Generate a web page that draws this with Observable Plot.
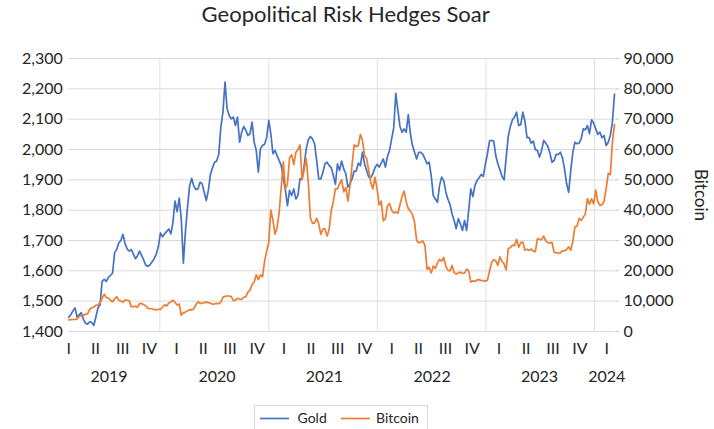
<!DOCTYPE html>
<html>
<head>
<meta charset="utf-8">
<script src="https://cdn.jsdelivr.net/npm/d3@7"></script>
<script src="https://cdn.jsdelivr.net/npm/@observablehq/plot@0.6"></script>
<style>
  body { margin: 0; background: #fff; }
  #chart { width: 714px; height: 429px; overflow: hidden; }
</style>
</head>
<body>
<div id="chart"></div>
<script>
// ---- data (weekly observations starting 2019-03-01) ----
const startDate = "2019-03-01";
const stepDays = 7;

const gold = [
  1447,1456,1468,1478,1447,1455,1462,1440,1428,1424,
  1432,1430,1420,1448,1478,1488,1565,1572,1565,1578,
  1585,1592,1660,1670,1692,1700,1720,1690,1672,1665,
  1670,1655,1640,1650,1665,1650,1635,1618,1615,1620,
  1630,1640,1655,1680,1725,1712,1722,1730,1738,1722,
  1760,1830,1795,1840,1770,1625,1730,1810,1880,1905,
  1880,1868,1870,1892,1887,1860,1832,1865,1918,1940,
  1958,1962,1984,2074,2123,2222,2134,2112,2101,2107,
  2079,2107,2024,2057,2076,2063,2046,2052,2090,2024,
  1997,1925,2002,2013,2017,2039,2096,2052,1986,1997,
  1980,1964,1947,1903,1865,1815,1865,1848,1870,1837,
  1848,1903,1903,1947,2002,2032,2043,2035,2019,1964,
  1903,1903,1925,1953,1958,1947,1940,1914,1885,1953,
  1931,1962,1936,1920,1876,1887,1903,1929,1929,1955,
  1947,1991,1953,1931,1909,1907,1920,1940,1951,1942,
  1955,1969,1942,1977,1997,2035,2071,2185,2130,2076,
  2057,2068,2057,2115,2052,2013,1991,1969,1991,1991,
  1984,1969,1953,1958,1914,1848,1837,1826,1881,1909,
  1898,1860,1837,1819,1788,1766,1739,1772,1755,1733,
  1766,1733,1800,1870,1845,1881,1898,1907,1918,1911,
  1951,1986,2028,2030,2028,1980,1953,1933,1911,1900,
  1975,2043,2076,2098,2107,2123,2079,2082,2123,2093,
  2039,2039,2021,2028,1999,1997,1975,1997,2030,2021,
  2010,1988,1958,1964,1984,1984,1991,1973,1936,1887,
  1859,1931,1991,2024,2019,2021,2035,2068,2065,2079,
  2052,2098,2087,2068,2050,2057,2039,2046,2013,2024,
  2046,2090,2183
];

const bitcoin = [
  3850,3900,3950,4000,4100,5000,5200,5300,5700,5800,
  7200,7900,8000,8600,8800,9300,11000,12300,11200,11000,
  10300,9800,10800,11500,10300,10100,9600,10400,10300,10200,
  8200,8200,8300,8000,9200,9200,8800,8500,7600,7500,
  7500,7200,7150,7300,7300,8000,8800,8400,9400,9800,
  10300,9700,8700,9100,5400,6200,6400,6800,7200,7100,
  7500,8800,9800,9300,9300,9500,9700,9500,9300,9000,
  9100,9250,9150,9700,11300,11600,11700,11700,11500,10200,
  10300,10900,10700,10600,11300,11500,13000,13600,15500,16300,
  18700,17100,18700,18000,23100,26500,29400,40000,36800,32100,
  34300,39300,47600,55900,47000,48800,57300,58300,55000,59000,
  60000,61500,50000,53500,57000,49000,37500,35600,35800,37300,
  35500,32000,33800,33800,31500,33600,39800,42800,47000,47000,
  48800,50000,46000,47500,43000,48000,54900,61500,61000,61300,
  65000,63000,58000,57000,53000,49000,47000,50800,47200,41700,
  43000,36500,37200,41500,42200,40000,39100,39400,39000,41800,
  44500,46300,42800,40500,39700,38600,36000,30000,29200,29500,
  29800,28400,20500,21200,19300,21600,20800,22600,23800,23200,
  24400,21500,20200,20000,21800,19400,18900,19400,19500,19200,
  19200,20600,20000,16300,16700,16500,17000,17100,16800,16800,
  16600,16900,19900,22700,23700,23300,21800,24600,23100,22300,
  20300,27400,27600,28500,28300,30400,27800,29300,29500,26800,
  27100,26700,27200,26500,26300,30600,30400,30300,31400,29900,
  29300,29200,29400,26100,26000,25800,25900,26600,26600,27000,
  27900,26800,29700,34500,34700,37300,36600,37700,38700,43800,
  42000,43700,42100,46600,42800,41600,41800,43000,47100,52100,
  51700,62400,68300
];

const goldTicks = [1400,1500,1600,1700,1800,1900,2000,2100,2200,2300];
const bitcoinTicks = [0,10000,20000,30000,40000,50000,60000,70000,80000,90000];

const quarterLabels = ["I","II","III","IV","I","II","III","IV","I","II","III","IV",
                       "I","II","III","IV","I","II","III","IV","I"];
const quarterDates = ["2019-03-01","2019-05-30","2019-08-29","2019-11-27",
                      "2020-02-26","2020-05-26","2020-08-24","2020-11-23",
                      "2021-02-21","2021-05-23","2021-08-21","2021-11-19",
                      "2022-02-18","2022-05-19","2022-08-18","2022-11-16",
                      "2023-02-14","2023-05-16","2023-08-14","2023-11-13",
                      "2024-02-11"];
const yearLabels = ["2019","2020","2021","2022","2023","2024"];
const yearLabelDates = ["2019-07-14","2020-07-11","2021-07-07","2022-07-04","2023-06-30","2024-02-11"];
const yearGridDates = ["2020-01-01","2021-01-01","2022-01-01","2023-01-01","2024-01-01"];

const title = "Geopolitical Risk Hedges Soar";
const rightTitle = "Bitcoin";
const seriesNames = ["Gold", "Bitcoin"];
const goldColor = "#4472C4";
const btcColor = "#ED7D31";
const textColor = "#262626";

// secondary axis: bitcoin 0..90,000 mapped onto gold 1,400..2,300
const btcToGold = b => 1400 + b / 100;
const goldToBtc = g => Math.round((g - 1400) * 100);

const t0 = new Date(startDate);
const rows = gold.map((g, i) => ({
  date: d3.utcDay.offset(t0, i * stepDays),
  gold: g,
  btc: bitcoin[i]
}));

const fmt = d3.format(",");

const plot = Plot.plot({
  width: 714,
  height: 429,
  marginLeft: 68.3,
  marginRight: 100,
  marginTop: 58,
  marginBottom: 98,
  style: { fontFamily: "Lato, sans-serif", background: "white", color: textColor, overflow: "visible" },
  x: { type: "utc", domain: [t0, rows[rows.length - 1].date], axis: null },
  y: { domain: [1400, 2300], axis: null },
  marks: [
    Plot.gridY(goldTicks, { stroke: "#d9d9d9", strokeOpacity: 1 }),
    Plot.ruleX(yearGridDates.map(d => new Date(d)), { stroke: "#e2e2e2", strokeWidth: 1 }),
    Plot.axisY(goldTicks, { anchor: "left", label: null, tickSize: 0, tickPadding: 6, tickFormat: fmt, fontSize: 16, fill: textColor }),
    Plot.axisY(bitcoinTicks.map(btcToGold), {
      anchor: "right", label: null, tickSize: 4, tickPadding: 5, stroke: "#c8c8c8",
      tickFormat: v => fmt(goldToBtc(v)), fontSize: 16, fill: textColor
    }),
    Plot.line(rows, { x: "date", y: "gold", stroke: goldColor, strokeWidth: 1.7 }),
    Plot.line(rows, { x: "date", y: d => btcToGold(d.btc), stroke: btcColor, strokeWidth: 1.7 }),
    Plot.text(quarterLabels, {
      x: (d, i) => new Date(quarterDates[i]), frameAnchor: "bottom", dy: 17,
      textAnchor: "middle", lineAnchor: "middle", fontSize: 16, fill: textColor
    }),
    Plot.text(yearLabels, {
      x: (d, i) => new Date(yearLabelDates[i]), frameAnchor: "bottom", dy: 45,
      textAnchor: "middle", lineAnchor: "middle", fontSize: 16, fill: textColor
    }),
    Plot.text([title], {
      frameAnchor: "top", dx: 4, dy: -44, textAnchor: "middle", lineAnchor: "middle",
      fontSize: 22, fill: textColor
    }),
    Plot.text([rightTitle], {
      frameAnchor: "right", dx: 86, rotate: 90, textAnchor: "middle", lineAnchor: "middle",
      fontSize: 17, fill: textColor
    })
  ]
});

// legend box below the plot area
const svg = d3.select(plot);
const lg = svg.append("g").attr("font-family", "Lato, sans-serif").attr("font-size", 14)
  .attr("fill", textColor).attr("text-anchor", "start");
lg.append("rect").attr("x", 254.5).attr("y", 405.5).attr("width", 173).attr("height", 32)
  .attr("fill", "white").attr("stroke", "#d9d9d9");
const items = [
  { name: seriesNames[0], color: goldColor, x1: 260, x2: 289, tx: 297.5 },
  { name: seriesNames[1], color: btcColor, x1: 341, x2: 370, tx: 376 }
];
for (const it of items) {
  lg.append("line").attr("x1", it.x1).attr("x2", it.x2).attr("y1", 418.5).attr("y2", 418.5)
    .attr("stroke", it.color).attr("stroke-width", 1.7);
  lg.append("text").attr("x", it.tx).attr("y", 418.5).attr("dy", "0.35em")
    .attr("text-anchor", "start").text(it.name);
}

document.getElementById("chart").appendChild(plot);
</script>
</body>
</html>
